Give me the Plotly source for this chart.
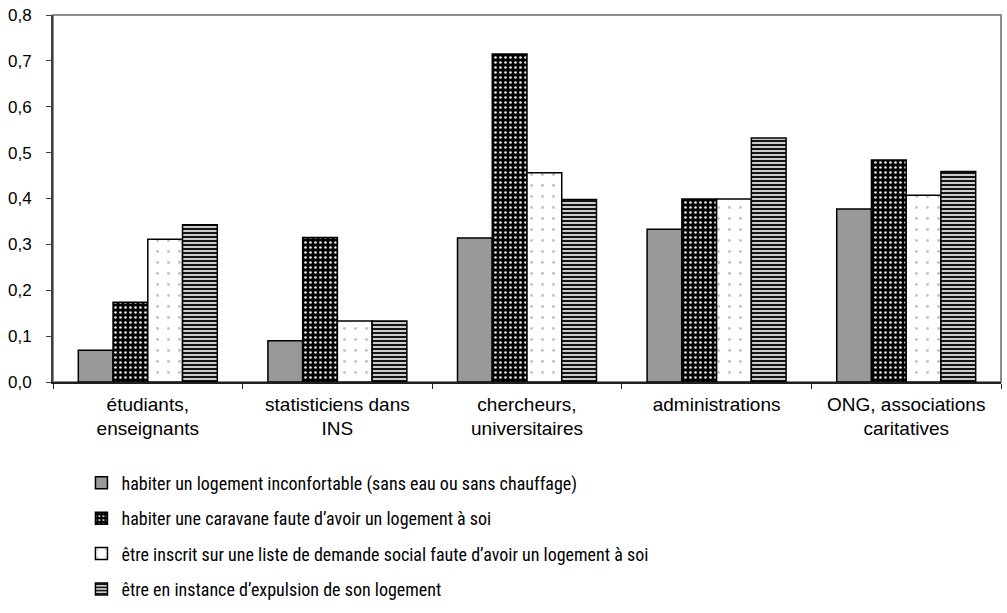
import plotly.graph_objects as go

categories = [
    "étudiants,<br>enseignants",
    "statisticiens dans<br>INS",
    "chercheurs,<br>universitaires",
    "administrations",
    "ONG, associations<br>caritatives",
]

inconfortable = [0.069, 0.090, 0.314, 0.333, 0.377]
caravane = [0.174, 0.315, 0.715, 0.399, 0.484]
liste_demande = [0.311, 0.133, 0.456, 0.399, 0.407]
expulsion = [0.343, 0.133, 0.398, 0.532, 0.459]

series_names = [
    "habiter un logement inconfortable (sans eau ou sans chauffage)",
    "habiter une caravane faute d’avoir un logement à soi",
    "être inscrit sur une liste de demande social faute d’avoir un logement à soi",
    "être en instance d’expulsion de son logement",
]

y_ticks = [0.0, 0.1, 0.2, 0.3, 0.4, 0.5, 0.6, 0.7, 0.8]

# fill style of each series: plain grey, dotted black, sparse dots on white, stripes
styles = [
    dict(color="#999999", pattern=dict(shape="")),
    dict(color="#000000", pattern=dict(shape=".", fgcolor="#e6e6e6", bgcolor="#000000",
                                       size=5, solidity=0.22, fillmode="replace")),
    dict(color="#ffffff", pattern=dict(shape=".", fgcolor="#c0c0c0", bgcolor="#ffffff",
                                       size=11, solidity=0.05, fillmode="replace")),
    dict(color="#b0b0b0", pattern=dict(shape="-", fgcolor="#000000", bgcolor="#cccccc",
                                       size=4, solidity=0.45, fillmode="replace")),
]

fig = go.Figure()
for i, (name, vals) in enumerate(zip(series_names,
                                     [inconfortable, caravane, liste_demande, expulsion])):
    st = styles[i]
    fig.add_trace(go.Bar(
        x=categories, y=vals, name=name,
        legendgroup=f"g{i}",
        marker=dict(color=st["color"], pattern=st["pattern"],
                    line=dict(color="#000000", width=1.5)),
    ))

# grey frame around the plotting area
fig.add_shape(type="rect", xref="paper", yref="paper", x0=0, x1=1, y0=0, y1=1,
              line=dict(color="#8c8c8c", width=2), layer="below")

fig.update_layout(
    width=1007, height=613,
    margin=dict(l=53, r=6, t=11, b=229),
    paper_bgcolor="white", plot_bgcolor="white",
    barmode="group", bargap=0.267, bargroupgap=0,
    separators=", ",
    font=dict(family="Liberation Sans, Arial, sans-serif", color="#000000"),
    showlegend=True,
    legend=dict(
        x=0.03, y=-0.225, xanchor="left", yanchor="top",
        orientation="v", tracegroupgap=9,
        font=dict(family="Roboto Condensed, Arial Narrow, sans-serif", size=18),
        itemwidth=30, bgcolor="rgba(0,0,0,0)",
    ),
    xaxis=dict(
        showline=True, linecolor="#202020", linewidth=1.5,
        ticks="outside", tickson="boundaries", ticklen=5, tickcolor="#202020",
        tickfont=dict(size=19), showgrid=False, ticklabelstandoff=4,
    ),
    yaxis=dict(
        range=[0, 0.8], tickvals=y_ticks, tickformat=".1f",
        showline=True, linecolor="#404040", linewidth=2,
        ticks="outside", ticklen=5, tickcolor="#404040",
        tickfont=dict(size=17), showgrid=False, ticklabelstandoff=11,
        zeroline=False,
    ),
)

fig.write_html("out.html")
